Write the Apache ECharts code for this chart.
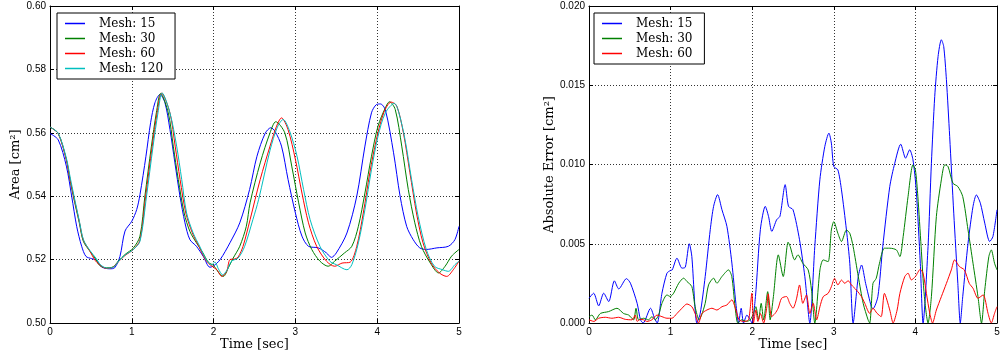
<!DOCTYPE html>
<html><head><meta charset="utf-8">
<script src="https://cdn.jsdelivr.net/npm/echarts@6/dist/echarts.min.js"></script>
<style>html,body{margin:0;padding:0;background:#fff}#c{width:1000px;height:358px}</style>
</head><body><div id="c"></div>
<script>
const meshNames = ['Mesh: 15', 'Mesh: 30', 'Mesh: 60', 'Mesh: 120'];
const errNames = ['Mesh: 15', 'Mesh: 30', 'Mesh: 60'];
const xLabel = 'Time [sec]';
const areaLabel = 'Area [cm²]';
const errLabel = 'Absolute Error [cm²]';

// Left panel: area vs time
const area15_t = [0,0.1,0.2,0.265,0.326,0.387,0.44,0.51,0.57,0.63,0.73,0.79,0.855,0.917,1.0,1.06,1.10,1.173,1.23,1.283,1.344,1.405,1.466,1.527,1.589,1.65,1.71,1.79,1.874,1.955,2.0,2.08,2.2,2.32,2.44,2.53,2.63,2.7,2.75,2.83,2.91,3.0,3.08,3.16,3.28,3.38,3.44,3.5,3.63,3.75,3.85,3.93,3.99,4.04,4.1,4.2,4.28,4.36,4.44,4.52,4.6,4.73,4.87,4.95,5.0];
const area15_v = [0.5598,0.5578,0.5495,0.540,0.5305,0.5242,0.521,0.5203,0.5198,0.5177,0.5171,0.5174,0.521,0.529,0.5321,0.5358,0.5405,0.5526,0.5632,0.5695,0.5721,0.5695,0.5611,0.5505,0.540,0.5316,0.5263,0.5242,0.521,0.5176,0.518,0.520,0.5253,0.5316,0.5421,0.5526,0.5598,0.5616,0.5605,0.5558,0.5453,0.5347,0.5274,0.5242,0.5237,0.5221,0.5207,0.5221,0.5284,0.540,0.5558,0.5663,0.5689,0.5691,0.5672,0.5537,0.540,0.5305,0.5263,0.5237,0.5232,0.5237,0.5242,0.5263,0.5305];

const area30_t = [0,0.1,0.2,0.244,0.285,0.358,0.407,0.489,0.55,0.61,0.69,0.77,0.835,0.917,1.02,1.1,1.16,1.24,1.30,1.352,1.446,1.507,1.568,1.64,1.71,1.79,1.87,1.935,2.0,2.08,2.12,2.18,2.24,2.32,2.40,2.446,2.57,2.69,2.76,2.87,2.955,3.04,3.12,3.2,3.3,3.4,3.48,3.6,3.69,3.77,3.85,3.93,4.01,4.1,4.15,4.22,4.3,4.38,4.46,4.54,4.65,4.75,4.83,4.91,5.0];
const area30_v = [0.5618,0.5598,0.5515,0.5453,0.540,0.5316,0.5258,0.5226,0.5205,0.5181,0.5174,0.5177,0.5195,0.5216,0.5237,0.5274,0.540,0.5558,0.5663,0.5724,0.5663,0.5558,0.5453,0.5347,0.5289,0.5253,0.5221,0.5192,0.5181,0.5153,0.5147,0.5174,0.5205,0.5242,0.5305,0.5379,0.5505,0.560,0.5635,0.560,0.5495,0.5379,0.5284,0.5232,0.5195,0.5179,0.5195,0.5221,0.5242,0.5305,0.541,0.5526,0.5621,0.5679,0.5698,0.5674,0.5558,0.5421,0.5316,0.5242,0.5189,0.5158,0.5179,0.5211,0.5232];

const area60_t = [0,0.1,0.2,0.244,0.285,0.358,0.407,0.489,0.55,0.6,0.69,0.77,0.835,0.917,1.02,1.1,1.17,1.25,1.31,1.365,1.466,1.53,1.59,1.66,1.74,1.82,1.9,1.96,2.04,2.1,2.16,2.2,2.26,2.3,2.36,2.446,2.57,2.69,2.77,2.83,2.91,3.0,3.08,3.16,3.26,3.38,3.48,3.57,3.67,3.75,3.83,3.91,3.99,4.08,4.17,4.24,4.32,4.4,4.48,4.56,4.66,4.76,4.85,4.93,5.0];
const area60_v = [0.5618,0.5598,0.5515,0.5455,0.5405,0.532,0.5262,0.5226,0.5198,0.5185,0.5172,0.5176,0.5193,0.5213,0.5232,0.5262,0.540,0.5558,0.5663,0.5725,0.5663,0.5558,0.5453,0.5347,0.5284,0.5242,0.520,0.5183,0.5168,0.5147,0.5163,0.520,0.5202,0.5208,0.5242,0.5326,0.5453,0.5558,0.5621,0.5647,0.561,0.5516,0.541,0.5316,0.5242,0.5195,0.5179,0.5189,0.5192,0.5242,0.5347,0.5474,0.5579,0.5663,0.5697,0.5684,0.560,0.5474,0.5347,0.5253,0.5189,0.5158,0.5147,0.5168,0.5195];

const area120_t = [0,0.1,0.2,0.25,0.29,0.36,0.41,0.49,0.56,0.62,0.7,0.78,0.84,0.92,1.02,1.1,1.18,1.26,1.32,1.37,1.466,1.548,1.61,1.67,1.75,1.83,1.91,1.975,2.016,2.06,2.11,2.16,2.22,2.3,2.38,2.48,2.55,2.69,2.78,2.85,2.93,3.02,3.1,3.18,3.3,3.42,3.5,3.63,3.69,3.77,3.85,3.93,4.01,4.1,4.21,4.26,4.34,4.42,4.5,4.6,4.7,4.8,4.87,4.95,5.0];
const area120_v = [0.5618,0.5599,0.552,0.5455,0.5405,0.532,0.5262,0.5228,0.5205,0.5183,0.5173,0.5177,0.5195,0.5215,0.5232,0.5258,0.540,0.5558,0.5663,0.5726,0.5663,0.5558,0.5453,0.5347,0.5284,0.5242,0.520,0.5184,0.5192,0.517,0.5152,0.5165,0.5195,0.5205,0.5242,0.5326,0.5389,0.5545,0.5618,0.5642,0.5605,0.5526,0.5421,0.5326,0.5242,0.5195,0.5184,0.5168,0.5184,0.5253,0.5358,0.5484,0.5589,0.5663,0.5693,0.5668,0.5579,0.5453,0.5337,0.5232,0.5179,0.5168,0.5163,0.5184,0.5195];

// Right panel: absolute error vs time
const err15_t = [0,0.057,0.119,0.18,0.242,0.311,0.365,0.459,0.508,0.59,0.631,0.664,0.754,0.803,0.836,0.894,0.955,0.996,1.02,1.078,1.139,1.18,1.229,1.26,1.322,1.363,1.424,1.486,1.527,1.576,1.629,1.69,1.751,1.8,1.833,1.865,1.894,1.935,1.976,1.996,2.04,2.1,2.16,2.2,2.24,2.3,2.34,2.404,2.445,2.5,2.58,2.645,2.706,2.767,2.829,2.89,2.94,2.97,3.0,3.05,3.094,3.155,3.196,3.237,3.3,3.34,3.39,3.46,3.48,3.54,3.6,3.686,3.747,3.82,3.88,3.93,3.97,4.01,4.06,4.094,4.155,4.196,4.237,4.278,4.318,4.347,4.38,4.42,4.47,4.52,4.55,4.58,4.645,4.706,4.747,4.796,4.85,4.91,4.95,5.0];
const err15_v = [0.00156,0.00188,0.00108,0.00188,0.00135,0.00266,0.00215,0.0028,0.00251,0.00124,0.0002,0,0.00093,0.0003,0,0.00188,0.00314,0.00331,0.00335,0.00409,0.00346,0.00352,0.005,0.0042,0,0.00061,0.00293,0.00589,0.00736,0.0081,0.00715,0.0061,0.00378,0.00124,0,0.00093,0,0.0005,0.0002,0,0.00167,0.00589,0.00736,0.00673,0.00578,0.00652,0.00673,0.00873,0.00736,0.00715,0.00525,0.00293,0,0.00482,0.00903,0.01114,0.01198,0.01135,0.00987,0.00966,0.0084,0.00587,0.00377,0,0.00293,0.00366,0.0025,0.00103,0.0009,0.00166,0.00482,0.00861,0.01008,0.01128,0.0104,0.01093,0.0103,0.0084,0.00377,0,0.00482,0.01008,0.0143,0.01682,0.01787,0.01745,0.01535,0.01177,0.00693,0.0025,0,0.00166,0.00503,0.00735,0.00808,0.00756,0.0063,0.00514,0.00545,0.00714];

const err30_t = [0,0.037,0.078,0.139,0.24,0.343,0.424,0.486,0.547,0.576,0.608,0.67,0.73,0.771,0.812,0.853,0.894,0.955,0.996,1.037,1.1,1.16,1.2,1.26,1.3,1.35,1.38,1.424,1.465,1.527,1.567,1.629,1.71,1.75,1.79,1.824,1.87,1.93,1.976,2.016,2.045,2.078,2.11,2.14,2.19,2.22,2.26,2.32,2.38,2.44,2.465,2.52,2.56,2.62,2.686,2.727,2.767,2.83,2.87,2.93,2.97,3.0,3.05,3.094,3.155,3.196,3.237,3.3,3.36,3.42,3.44,3.48,3.52,3.56,3.62,3.686,3.767,3.81,3.85,3.91,3.97,4.0,4.03,4.07,4.11,4.155,4.196,4.257,4.318,4.36,4.4,4.46,4.52,4.58,4.645,4.706,4.767,4.81,4.85,4.9,4.93,4.97,5.0];
const err30_v = [0.0004,0.0005,0.0002,0.0006,0.00072,0.00093,0.0006,0.0005,0.0002,0.00093,0.0002,0.0003,0.0002,0.0004,0.0002,0.0005,0.00124,0.00177,0.00167,0.00188,0.00251,0.00283,0.00262,0.0023,0.00103,0.0002,0.0005,0.00124,0.0024,0.00283,0.00251,0.00293,0.00335,0.00293,0.00103,0,0.0002,0.0001,0.0002,0.0006,0.00103,0.0002,0.00124,0.0002,0.00198,0.0002,0.00167,0.0043,0.00293,0.0051,0.00483,0.00398,0.0043,0.00377,0.00335,0.00208,0,0.00335,0.00398,0.00387,0.00587,0.0064,0.00566,0.00514,0.00587,0.00566,0.00482,0.00293,0.00124,0.0002,0,0.0025,0.00282,0.00377,0.00472,0.00472,0.00461,0.00419,0.00545,0.00798,0.00998,0.00966,0.00798,0.00482,0.00166,0,0.00166,0.00672,0.00903,0.00998,0.00987,0.00882,0.00861,0.00798,0.00587,0.00377,0.00166,0,0.00208,0.00419,0.00461,0.00377,0.00335];

const err60_t = [0,0.06,0.118,0.2,0.28,0.363,0.445,0.527,0.567,0.59,0.63,0.67,0.71,0.77,0.833,0.894,0.955,1.016,1.078,1.139,1.2,1.26,1.3,1.343,1.384,1.445,1.506,1.567,1.63,1.69,1.75,1.8,1.84,1.894,1.955,1.996,2.016,2.045,2.07,2.1,2.14,2.18,2.196,2.237,2.28,2.318,2.36,2.42,2.46,2.5,2.54,2.58,2.62,2.665,2.706,2.747,2.79,2.83,2.87,2.93,2.97,3.01,3.05,3.094,3.135,3.175,3.216,3.277,3.34,3.38,3.44,3.48,3.53,3.58,3.62,3.686,3.727,3.776,3.81,3.87,3.91,3.95,4.0,4.06,4.094,4.135,4.176,4.21,4.257,4.318,4.38,4.44,4.48,4.54,4.6,4.66,4.706,4.767,4.83,4.89,4.93,4.97,5.0];
const err60_v = [0.0002,0.0001,0.0003,0.00036,0.0003,0.00036,0.00023,0.0002,0.0005,0.0001,0.00023,0.0002,0.0001,0.0002,0.0005,0.0004,0.0003,0.0003,0.0006,0.00093,0.0012,0.00103,0.0006,0,0.0006,0.00082,0.00093,0.00082,0.00103,0.00114,0.00146,0.00082,0.0002,0.0001,0.0002,0.00188,0,0.00082,0.0001,0.0006,0,0.00103,0.00184,0.0004,0.0006,0.00093,0.00156,0.00167,0.00124,0.00093,0.00146,0.0024,0.00124,0.00177,0.0006,0.00124,0.0002,0.00103,0.00166,0.00187,0.00229,0.00282,0.0024,0.00271,0.0025,0.00267,0.0024,0.00208,0.00166,0.00124,0.00061,0.00093,0.00061,0.0004,0.00187,0.00082,0,0.00082,0.00187,0.00293,0.00314,0.00272,0.00293,0.00339,0.00314,0.00187,0.00061,0,0.00082,0.00166,0.0025,0.00335,0.00398,0.00356,0.00335,0.0025,0.00219,0.00156,0.00177,0.00061,0,0.00061,0.00103];

const colors = ['#0000ff', '#008000', '#ff0000', '#00bfbf'];
const zip = (t, v) => t.map((x, i) => [x, v[i]]);

const serifFont = 'DejaVu Serif';
const sansFont = 'Liberation Sans';

function mainX(gi) {
  return {
    type: 'value', gridIndex: gi, min: 0, max: 5, interval: 1,
    name: xLabel, nameLocation: 'middle', nameGap: 15, nameMoveOverlap: false,
    nameTextStyle: { fontFamily: serifFont, fontSize: 13, color: '#000' },
    axisLine: { show: true, onZero: false, lineStyle: { color: '#000', width: 1 } },
    axisTick: { show: true, inside: true, length: 4, lineStyle: { color: '#000' } },
    axisLabel: { margin: 4, fontFamily: sansFont, fontSize: 10, color: '#000' },
    splitLine: { show: true, lineStyle: { type: [1, 2], color: '#333', width: 1 } }
  };
}
function topX(gi) {
  return {
    type: 'value', gridIndex: gi, min: 0, max: 5, interval: 1, position: 'top',
    axisLine: { show: true, onZero: false, lineStyle: { color: '#000', width: 1 } },
    axisTick: { show: true, inside: true, length: 4, lineStyle: { color: '#000' } },
    axisLabel: { show: false }, splitLine: { show: false }
  };
}
function mainY(gi, min, max, interval, dec, name, gap) {
  return {
    type: 'value', gridIndex: gi, min: min, max: max, interval: interval,
    name: name, nameLocation: 'middle', nameGap: gap, nameRotate: 90, nameMoveOverlap: false,
    nameTextStyle: { fontFamily: serifFont, fontSize: 13, color: '#000' },
    axisLine: { show: true, onZero: false, lineStyle: { color: '#000', width: 1 } },
    axisTick: { show: true, inside: true, length: 4, lineStyle: { color: '#000' } },
    axisLabel: { margin: 4, fontFamily: sansFont, fontSize: 10, color: '#000', formatter: v => v.toFixed(dec) },
    splitLine: { show: true, lineStyle: { type: [1, 2], color: '#333', width: 1 } }
  };
}
function rightY(gi, min, max, interval) {
  return {
    type: 'value', gridIndex: gi, min: min, max: max, interval: interval, position: 'right',
    axisLine: { show: true, onZero: false, lineStyle: { color: '#000', width: 1 } },
    axisTick: { show: true, inside: true, length: 4, lineStyle: { color: '#000' } },
    axisLabel: { show: false }, splitLine: { show: false }
  };
}
function legend(left, names) {
  return {
    orient: 'vertical', left: left, top: 13, itemWidth: 20, itemHeight: 1.5, itemGap: 0,
    icon: 'rect', padding: [3, 12, 3, 8], borderColor: '#000', borderWidth: 1, borderRadius: 0,
    backgroundColor: '#fff', z: 10, selectedMode: false,
    textStyle: { fontFamily: serifFont, fontSize: 12, color: '#000', lineHeight: 15, padding: [0, 0, 0, 9] },
    data: names
  };
}
function line(name, xi, yi, data, color, smooth) {
  return {
    type: 'line', name: name, xAxisIndex: xi, yAxisIndex: yi, data: data,
    showSymbol: false, symbol: 'none', smooth: smooth, clip: true, animation: false,
    color: color, lineStyle: { width: 1, color: color }
  };
}

const chart = echarts.init(document.getElementById('c'), null, { renderer: 'canvas' });
chart.setOption({
  animation: false,
  backgroundColor: '#fff',
  grid: [
    { left: 50, top: 6, width: 409, height: 317, outerBoundsMode: 'none', containLabel: false },
    { left: 589, top: 6, width: 408, height: 317, outerBoundsMode: 'none', containLabel: false }
  ],
  xAxis: [mainX(0), mainX(1), topX(0), topX(1)],
  yAxis: [
    mainY(0, 0.50, 0.60, 0.02, 2, areaLabel, 28),
    mainY(1, 0, 0.02, 0.005, 3, errLabel, 33),
    rightY(0, 0.50, 0.60, 0.02),
    rightY(1, 0, 0.02, 0.005)
  ],
  legend: [legend(57, meshNames), legend(594, errNames)],
  series: [
    line(meshNames[0], 0, 0, zip(area15_t, area15_v), colors[0], 0.3),
    line(meshNames[1], 0, 0, zip(area30_t, area30_v), colors[1], 0.3),
    line(meshNames[2], 0, 0, zip(area60_t, area60_v), colors[2], 0.3),
    line(meshNames[3], 0, 0, zip(area120_t, area120_v), colors[3], 0.3),
    line(errNames[0], 1, 1, zip(err15_t, err15_v), colors[0], 0.25),
    line(errNames[1], 1, 1, zip(err30_t, err30_v), colors[1], 0.25),
    line(errNames[2], 1, 1, zip(err60_t, err60_v), colors[2], 0.25)
  ]
});
</script>
</body></html>
